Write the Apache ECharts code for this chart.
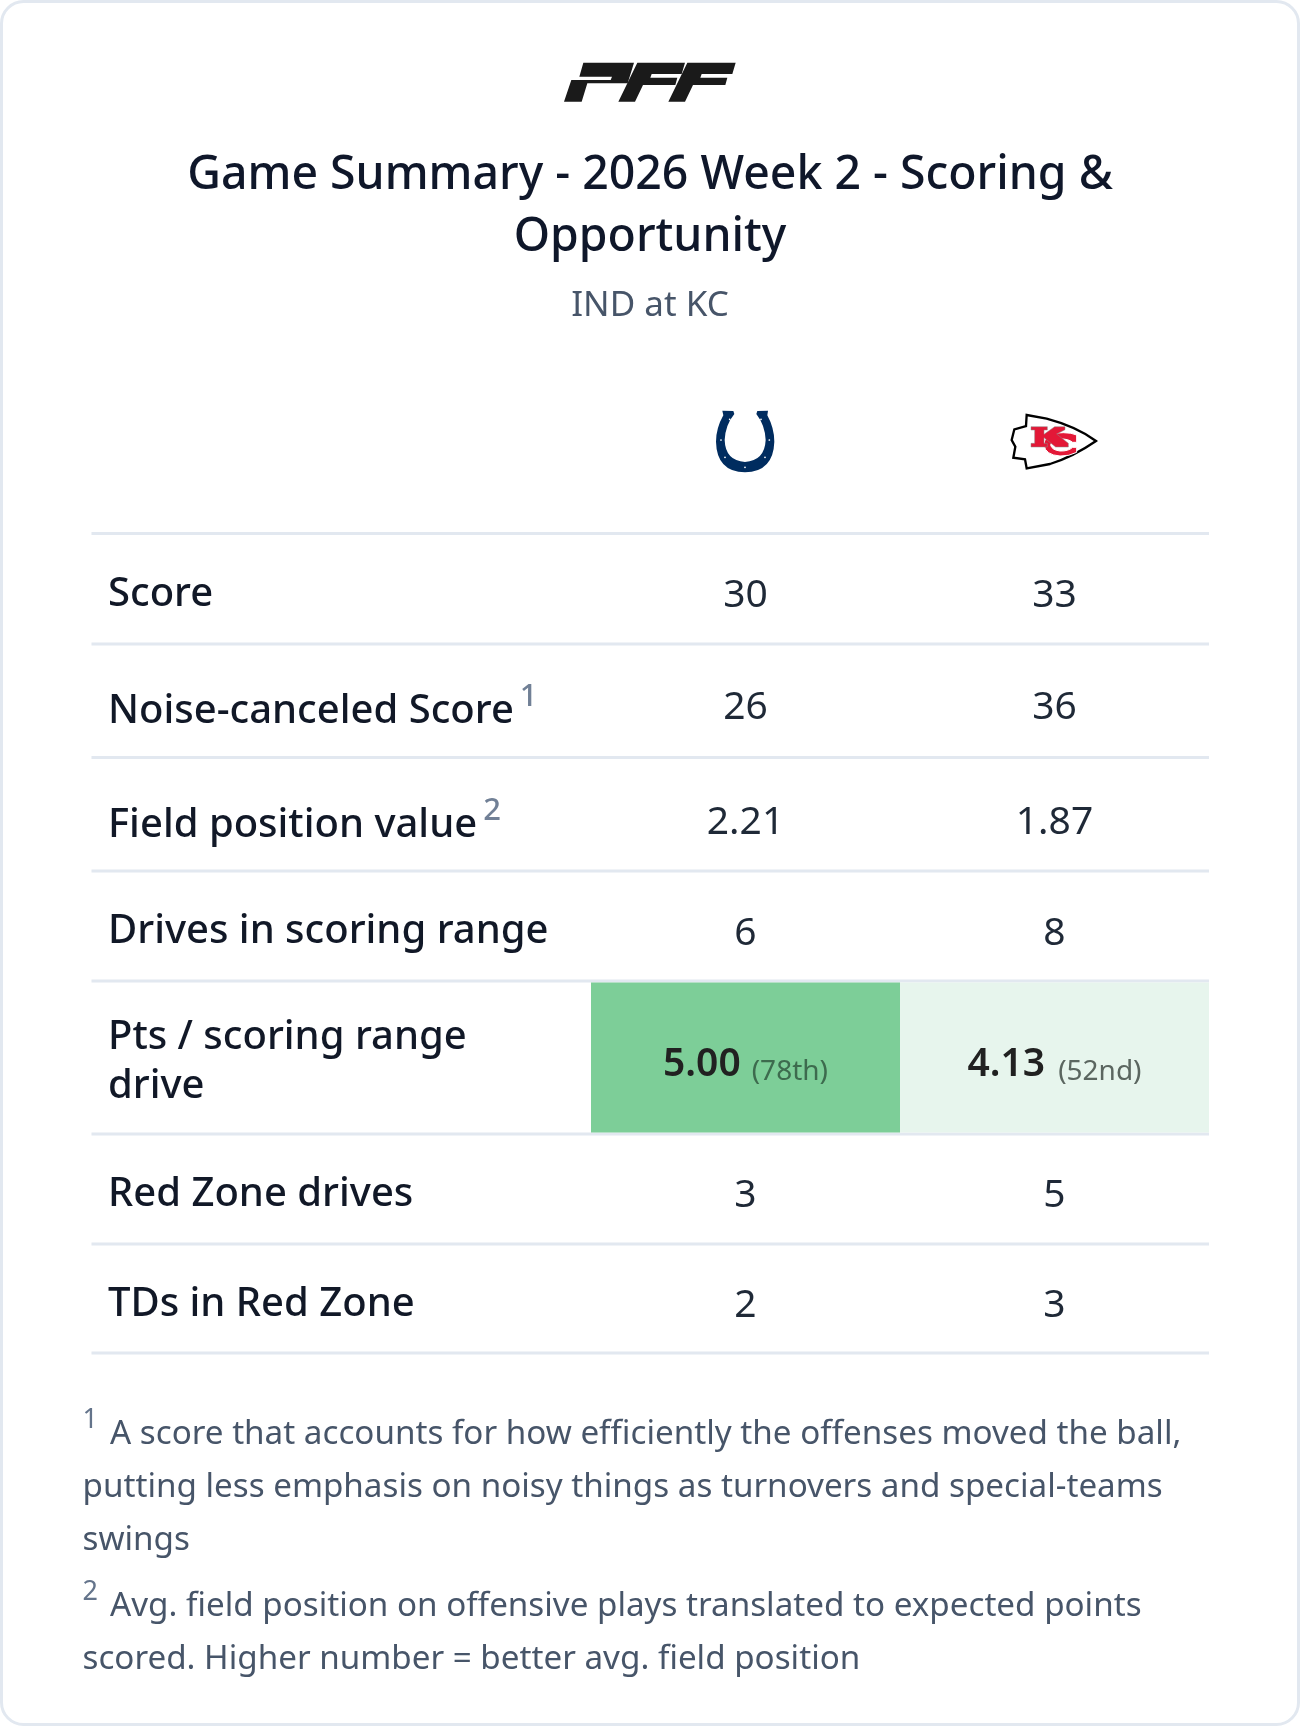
<!DOCTYPE html>
<html><head><meta charset="utf-8">
<style>html,body{margin:0;padding:0;background:#fff}#c{width:1300px;height:1726px}</style>
<script src="https://cdn.jsdelivr.net/npm/echarts@6/dist/echarts.min.js"></script>
</head><body><div id="c"></div>
<script>
// ---- data ----
const titleText = 'Game Summary - 2026 Week 2 - Scoring &\nOpportunity';
const subtitleText = 'IND at KC';
const teams = ['IND', 'KC'];
const rowLabels = ['Score', 'Noise-canceled Score', 'Field position value', 'Drives in scoring range', 'Pts / scoring range\ndrive', 'Red Zone drives', 'TDs in Red Zone'];
const labelNotes = ['', '1', '2', '', '', '', ''];
const indValues = [30, 26, 2.21, 6, 5.00, 3, 2];
const kcValues = [33, 36, 1.87, 8, 4.13, 5, 3];
const rowDecimals = [0, 0, 2, 0, 2, 0, 0];
const indRanks = ['', '', '', '', '(78th)', '', ''];
const kcRanks = ['', '', '', '', '(52nd)', '', ''];
const footnotes = [
  ['1', 'A score that accounts for how efficiently the offenses moved the ball,'],
  ['', 'putting less emphasis on noisy things as turnovers and special-teams'],
  ['', 'swings'],
  ['2', 'Avg. field position on offensive plays translated to expected points'],
  ['', 'scored. Higher number = better avg. field position']
];

// ---- layout ----
const FF = '"Noto Sans", "Open Sans", sans-serif';
const rowHeights = [110.5, 113.5, 113.5, 110, 153, 110, 109];
const tableTop = 533.5, tableLeft = 91.5, tableRight = 1209, colLeft = 591;
const labelBase = [609, 726, 840, 946, 1052, 1209, 1319];
const valueBase = [610, 722, 837, 948, 1079, 1210, 1320];
const rankBase = 1082;
const rankGap = [11, 13];
const footBase = [1446, 1499, 1552, 1618, 1671];
const rowEdges = rowHeights.reduce((a, h) => (a.push(a[a.length - 1] + h), a), [0]);
const tableH = rowEdges[rowEdges.length - 1];
const BL = 0.36;

const measure = (() => { const c = document.createElement('canvas').getContext('2d');
  return (t, f) => { c.font = f; return c.measureText(t).width; }; })();
const txt = (x, base, text, size, weight, fill, align) => ({
  type: 'text', silent: true,
  style: { x, y: base - BL * size, text, fill, font: `${weight} ${size}px ${FF}`, align: align || 'left', verticalAlign: 'middle' }
});

const cells = [];
rowLabels.forEach((_, r) => teams.forEach((_, t) => cells.push([t, r])));

function renderCell(p, api) {
  const t = api.value(0), r = api.value(1);
  const v = (t === 0 ? indValues : kcValues)[r].toFixed(rowDecimals[r]);
  const rank = (t === 0 ? indRanks : kcRanks)[r];
  const cx = api.coord([t, 0])[0], w = api.size([1, 0])[0];
  const y0 = api.coord([t, rowEdges[r]])[1], y1 = api.coord([t, rowEdges[r + 1]])[1];
  const kids = [];
  if (rank) {
    kids.push({ type: 'rect', silent: true,
      shape: { x: cx - w / 2, y: y0 + 1.5, width: w, height: y1 - y0 - 3 },
      style: { fill: t === 0 ? '#7dce98' : '#e7f5ed' } });
    const f1 = `600 39px ${FF}`, f2 = `400 28px ${FF}`;
    const w1 = measure(v, f1), w2 = measure(rank, f2), gap = rankGap[t];
    const sx = cx - (w1 + gap + w2) / 2;
    kids.push(txt(sx, valueBase[r], v, 39, 600, '#212121'));
    kids.push(txt(sx + w1 + gap, rankBase, rank, 28, 400, t === 0 ? '#3d6b4e' : '#5b6660'));
  } else {
    kids.push(txt(cx, valueBase[r], v, 39, 400, '#1f2937', 'center'));
  }
  return { type: 'group', children: kids };
}
function renderLabel(p, api) {
  const r = api.value(0);
  const lines = rowLabels[r].split('\n');
  const kids = lines.map((l, i) => txt(108, labelBase[r] + i * 49, l, 40, 500, '#111827'));
  if (labelNotes[r]) {
    const lw = measure(lines[0], `500 40px ${FF}`);
    kids.push(txt(108 + lw + 6, labelBase[r] - 18, labelNotes[r], 31, 500, '#718096'));
  }
  return { type: 'group', children: kids };
}
function renderLine(p, api) {
  const y = api.coord([0, api.value(0)])[1];
  return { type: 'line', silent: true, shape: { x1: tableLeft, y1: y, x2: tableRight, y2: y },
    style: { stroke: '#e2e8f0', lineWidth: 3 } };
}
const logoPath = (pathData, ox, oy, style) => ({
  type: 'path', x: ox, y: oy, scaleX: 1 / 3, scaleY: 1 / 3, silent: true,
  shape: { pathData }, style
});
const rivet = (x, y) => ({ type: 'circle', x: 680, y: 390, scaleX: 1/3, scaleY: 1/3, silent: true, shape: { cx: x, cy: y, r: 2.6 }, style: { fill: '#fff' } });
function renderLogos() {
  return { type: 'group', children: [
    logoPath('M100 38H252L233 100H112L95 155H42L64 90H182L186 80H88Z', 550, 50, { fill: '#1a1a1a' }),
    logoPath('M262 38H405L395 72H305L301 83H382L376 105H279L255 155H205Z', 550, 50, { fill: '#1a1a1a' }),
    logoPath('M412 38H557L547 72H455L451 83H532L526 105H429L405 155H355Z', 550, 50, { fill: '#1a1a1a' }),
    logoPath('M127 62L160 63L163 72Q136 105 134 150Q136 212 195 216Q254 212 257 150Q255 105 229 72L232 63L264 62L262 76Q283 115 283 155Q280 245 195 247Q110 245 108 155Q108 115 130 76Z', 680, 390, { fill: '#002c5f' }),
    rivet(149,88), rivet(123,150), rivet(135,202), rivet(195,232), rivet(255,202), rivet(268,150), rivet(243,88),
    logoPath('M1040 75L1100 86Q1190 110 1248 153Q1180 200 1110 222L1040 235L1035 208L1000 203L1006 170L995 150L1003 118L1038 108Z', 680, 390, { fill: '#fff', stroke: '#000', lineWidth: 7 }),
    logoPath('M1190 135V157H1178Q1165 146 1140 147Q1115 150 1112 165Q1115 180 1140 183Q1165 184 1178 172H1190V187Q1168 199 1140 198Q1096 195 1092 165Q1092 148 1105 138L1120 132Q1130 128 1150 128Q1175 128 1190 135Z', 680, 390, { fill: '#e31837', stroke: '#fff', lineWidth: 3 }),
    logoPath('M1053 110H1102V120H1092V133L1124 110H1155V119L1130 132L1165 160V171H1127L1092 143V160H1102V171H1053V160H1064V120H1053Z', 680, 390, { fill: '#e31837', stroke: '#8a8a8a', lineWidth: 1.5 })
  ]};
}

const footGraphics = [];
footnotes.forEach((f, i) => {
  const x = f[0] ? 110 : 82.5;
  footGraphics.push(txt(x, footBase[i], f[1], 33.2, 400, '#475569'));
  if (f[0]) footGraphics.push(txt(82.5, footBase[i] - 16, f[0], 27, 400, '#64748b'));
});

const chart = echarts.init(document.getElementById('c'), null, { width: 1300, height: 1726 });
chart.setOption({
  animation: false,
  backgroundColor: '#fff',
  title: {
    text: titleText, subtext: subtitleText, left: 650, textAlign: 'center', top: 145, itemGap: 15.5, padding: 0,
    textStyle: { fontFamily: FF, fontSize: 46.4, fontWeight: 500, color: '#0f172a', lineHeight: 62 },
    subtextStyle: { fontFamily: FF, fontSize: 35, fontWeight: 400, color: '#475569', lineHeight: 44 }
  },
  grid: { left: colLeft, width: tableRight - colLeft, top: tableTop, height: tableH },
  xAxis: { type: 'category', data: teams, show: false },
  yAxis: { type: 'value', inverse: true, min: 0, max: tableH, show: false, splitLine: { show: false } },
  graphic: [
    { type: 'rect', silent: true, z: -10, shape: { x: 1.5, y: 1.5, width: 1297, height: 1723, r: 22 }, style: { fill: '#fff', stroke: '#e2e8f0', lineWidth: 3 } }
  ].concat(footGraphics),
  series: [
    { type: 'custom', coordinateSystem: 'cartesian2d', clip: false, data: cells, renderItem: renderCell, z: 2 },
    { type: 'custom', coordinateSystem: 'cartesian2d', clip: false, data: rowEdges.map(e => [e]), renderItem: renderLine, z: 1 },
    { type: 'custom', coordinateSystem: 'cartesian2d', clip: false, data: rowLabels.map((_, i) => [i]), renderItem: renderLabel, z: 3 },
    { type: 'custom', coordinateSystem: 'none', clip: false, data: [[0]], renderItem: renderLogos, z: 3 }
  ]
});
</script></body></html>
